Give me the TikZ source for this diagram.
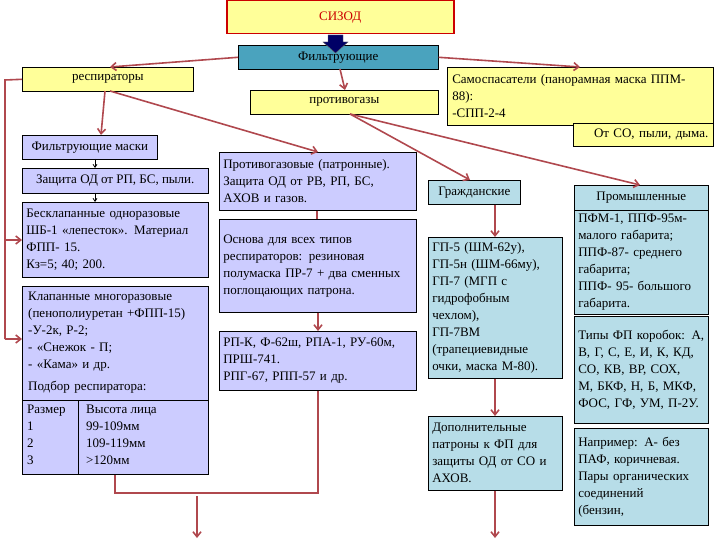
\documentclass[tikz,border=0pt]{standalone}
\usepackage{fontspec}
\setmainfont{Liberation Serif}
\usetikzlibrary{arrows.meta}
\definecolor{yel}{HTML}{FFFF99}
\definecolor{lav}{HTML}{CCCCFF}
\definecolor{teal1}{HTML}{4AA3BE}
\definecolor{lb}{HTML}{B7DDE8}
\definecolor{arr}{HTML}{B0484E}
\begin{document}
\begin{tikzpicture}[x=1pt,y=-1pt,
  box/.style={draw=black,line width=0.6pt,anchor=north west,inner sep=4pt,align=left,font=\fontsize{13}{17}\selectfont},
  ar/.style={draw=arr,line width=1.6pt,-{Straight Barb[length=5pt,width=8pt]}},
  ln/.style={draw=arr,line width=1.6pt},
  sm/.style={draw=black,line width=0.8pt,-{Straight Barb[length=3pt,width=4pt]}}]
\useasboundingbox (0,0) rectangle (720,540);
% top
\node[box,draw=red!80!black,line width=1.5pt,fill=yel,minimum width=227pt,minimum height=33pt,align=center,text=red!80!black] (sizod) at (226,0) {СИЗОД};
\node[box,fill=teal1,minimum width=200pt,minimum height=24pt,align=center] (filt) at (238,45) {Фильтрующие};
\draw[fill=blue!40!black,draw=black!60] (328,35) -- (343,35) -- (343,42) -- (348,42) -- (335.5,53) -- (323,42) -- (328,42) -- cycle;
\node[box,fill=yel,minimum width=171pt,minimum height=24pt,align=center] (resp) at (22,67) {респираторы};
\node[box,fill=yel,minimum width=188pt,minimum height=24pt] (protg) at (250,90) {противогазы};
\node[box,fill=yel,minimum width=266pt,minimum height=58pt,text width=256pt] (samo) at (447,67) {Самоспасатели (панорамная маска ППМ-\\88):\\-СПП-2-4};
\node[box,fill=yel,minimum width=140pt,minimum height=23pt,align=right,text width=130pt] (otco) at (573,123) {От СО, пыли, дыма.};
% left column
\node[box,fill=lav,minimum width=135pt,minimum height=24pt] (fm) at (22,135) {Фильтрующие маски};
\node[box,fill=lav,minimum width=186pt,minimum height=25pt] (zod) at (22,168) {Защита ОД от РП, БС, пыли.};
\node[box,fill=lav,minimum width=186pt,minimum height=75pt,text width=178pt] (besk) at (22,202) {Бесклапанные одноразовые ШБ-1 «лепесток». Материал ФПП- 15.\\Кз=5; 40; 200.};
\node[draw=black,line width=0.6pt,fill=lav,anchor=north west,minimum width=186pt,minimum height=188pt,inner sep=0pt] (klap) at (22,286) {};
\node[anchor=north west,inner sep=0pt,align=left,text width=178pt,font=\fontsize{13}{17}\selectfont] (klapt) at (28,292) {Клапанные многоразовые (пенополиуретан +ФПП-15)\\-У-2к, Р-2;\\- «Снежок - П;\\- «Кама» и др.\\[5pt]Подбор респиратора:};
\draw[line width=0.6pt] (22,400) -- (208,400) (78,400) -- (78,474);
\node[anchor=north west,inner sep=0pt,align=left,font=\fontsize{13}{17}\selectfont] (sz) at (27,405) {Размер\\1\\2\\3};
\node[anchor=north west,inner sep=0pt,align=left,font=\fontsize{13}{17}\selectfont] (vl) at (86,405) {Высота лица\\99-109мм\\109-119мм\\>120мм};
% middle column
\node[box,fill=lav,minimum width=197pt,minimum height=58pt,text width=189pt] (ppat) at (219,152) {Противогазовые (патронные). Защита ОД от РВ, РП, БС, АХОВ и газов.};
\node[box,fill=lav,minimum width=197pt,minimum height=93pt,text width=189pt] (osn) at (219,219) {Основа для всех типов респираторов: резиновая полумаска ПР-7 + два сменных поглощающих патрона.};
\node[box,fill=lav,minimum width=197pt,minimum height=59pt,text width=189pt] (rpk) at (219,331) {РП-К, Ф-62ш, РПА-1, РУ-60м, ПРШ-741.\\РПГ-67, РПП-57 и др.};
% right columns
\node[box,fill=lb,minimum width=92pt,minimum height=24pt] (grazh) at (428,180) {Гражданские};
\node[box,fill=lb,minimum width=134pt,minimum height=141pt,text width=126pt] (gp5) at (428,237) {ГП-5 (ШМ-62у),\\ГП-5н (ШМ-66му),\\ГП-7 (МГП с гидрофобным чехлом),\\ГП-7ВМ (трапециевидные очки, маска М-80).};
\node[box,fill=lb,minimum width=134pt,minimum height=74pt,text width=126pt] (dop) at (428,416) {Дополнительные патроны к ФП для защиты ОД от СО и АХОВ.};
\node[box,fill=lb,minimum width=134pt,minimum height=25pt] (prom) at (574,185) {Промышленные};
\node[box,fill=lb,minimum width=134pt,minimum height=104pt,text width=126pt] (pfm) at (574,210) {ПФМ-1, ППФ-95м-малого габарита; ППФ-87- среднего габарита;\\ППФ- 95- большого габарита.};
\node[box,fill=lb,minimum width=134pt,minimum height=107pt,text width=126pt] (tip) at (574,316) {Типы ФП коробок: А, В, Г, С, Е, И, К, КД, СО, КВ, ВР, СОХ, М, БКФ, Н, Б, МКФ, ФОС, ГФ, УМ, П-2У.};
\node[box,fill=lb,minimum width=134pt,minimum height=97pt,text width=126pt] (napr) at (574,428) {Например: А- без ПАФ, коричневая. Пары органических соединений\\(бензин,\\[8pt]};
% connectors
\coordinate (e1) at (197,538); \coordinate (e2) at (495,538);
\draw[ar] (filt.west) -- (110,67);
\draw[ar] (filt.east) -- (580,67);
\draw[ar] (340,69) -- (protg.north -| 345,0);
\draw[ar] (105,91) -- (fm.north -| 101,0);
\draw[ar] (110,91) -- (ppat.north -| 318,0);
\draw[ar] (350,114) -- (grazh.north -| 470,0);
\draw[ar] (350,114) -- (prom.north -| 640,0);
\draw[ln] (resp.west) -- (5,80) -- (5,339);
\draw[ar] (5,240) -- (besk.west |- 0,240);
\draw[ar] (5,339) -- (klap.west |- 0,339);
\draw[sm] (95,159) -- (zod.north -| 95,0);
\draw[sm] (95,193) -- (besk.north -| 95,0);
\draw[ln] (ppat.south -| 317,0) -- (osn.north -| 317,0);
\draw[ar] (osn.south -| 318,0) -- (rpk.north -| 318,0);
\draw[ln] (rpk.south -| 318,0) -- (318,493) -- (115,493) -- (klap.south -| 115,0);
\draw[ar] (197,496) -- (e1);
\draw[ar] (grazh.south -| 495,0) -- (gp5.north -| 495,0);
\draw[ar] (gp5.south -| 495,0) -- (dop.north -| 495,0);
\draw[ar] (dop.south -| 495,0) -- (e2);
\end{tikzpicture}
\end{document}
